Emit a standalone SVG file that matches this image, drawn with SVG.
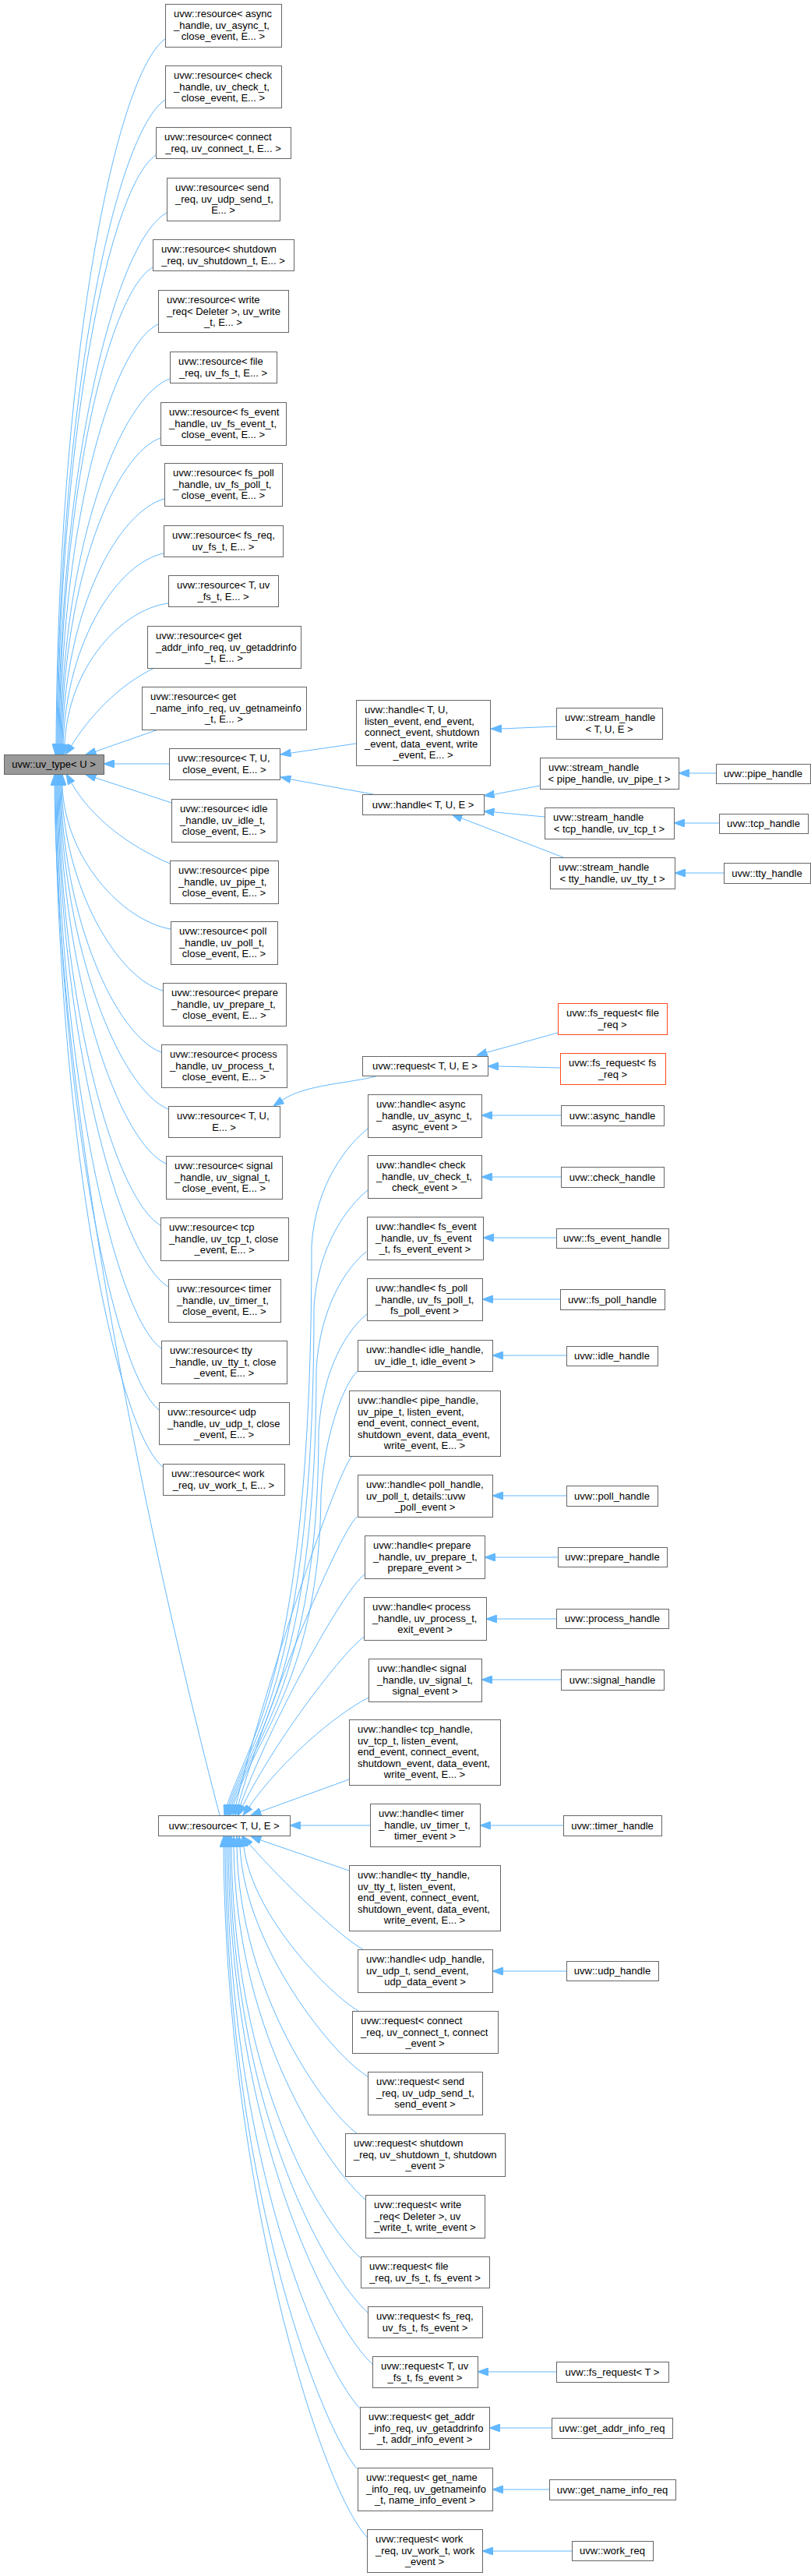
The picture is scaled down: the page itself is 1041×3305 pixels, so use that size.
<svg xmlns="http://www.w3.org/2000/svg" width="1041" height="3305" viewBox="0 0 1041 3305">
<style>
rect{fill:#fff;stroke:#666;stroke-width:1}
rect.root{fill:#999}
rect.trunc{stroke:#ff4a1c}
text{font-family:"Liberation Sans",Arial,sans-serif;font-size:13px;fill:#000}
.l{text-anchor:start}
.c{text-anchor:middle}
#edges path{fill:none;stroke:#63b8ff;stroke-width:1;marker-end:url(#a)}
</style>
<defs>
<marker id="a" markerUnits="userSpaceOnUse" viewBox="0 0 14 10" markerWidth="14" markerHeight="10" refX="13.5" refY="5" orient="auto"><path d="M0,0 L13.5,5 L0,10 z" fill="#63b8ff" stroke="#63b8ff" stroke-width="1"/></marker>
</defs>
<rect x="0" y="0" width="1041" height="3305" style="fill:#fff;stroke:none"/>
<g id="edges">
<path d="M212,50 C149,95 75,457 72,954 L71,968"/>
<path d="M212,128 C150,169 76,500 73,954 L72,968"/>
<path d="M200,199 C143,237 77,539 74,954 L73,968"/>
<path d="M214,273 C151,307 78,579 75,954 L74,968"/>
<path d="M196,343 C142,374 79,618 76,954 L75,968"/>
<path d="M203,416 C146,443 80,658 77,954 L76,968"/>
<path d="M218,486 C155,509 81,697 78,954 L77,968"/>
<path d="M206,562 C149,582 82,738 79,954 L78,968"/>
<path d="M211,640 C152,656 83,781 80,954 L79,968"/>
<path d="M210,710 C152,722 86,820 81,954 L80,968"/>
<path d="M216,774 C156,782 88,855 83,954 L82,968"/>
<path d="M200,856 C150,880 115,920 92,956 L84,968"/>
<path d="M203,936 L123,964 L110,968"/>
<path d="M217,980 L147,980 L133,980"/>
<path d="M220,1030 L123,998 L110,994"/>
<path d="M218,1108 C165,1085 118,1050 92,1005 L85,993"/>
<path d="M219,1192 C156,1181 83,1100 80,1008 L80,994"/>
<path d="M209,1271 C151,1255 82,1139 79,1008 L79,994"/>
<path d="M207,1350 C149,1329 81,1179 78,1008 L78,994"/>
<path d="M216,1423 C154,1398 80,1215 77,1008 L77,994"/>
<path d="M213,1493 C151,1464 79,1250 76,1008 L76,994"/>
<path d="M206,1572 C147,1538 78,1290 75,1008 L75,994"/>
<path d="M216,1651 C152,1612 77,1329 74,1008 L74,994"/>
<path d="M207,1730 C147,1687 76,1369 73,1008 L73,994"/>
<path d="M204,1809 C145,1761 75,1409 72,1008 L72,994"/>
<path d="M209,1882 C146,1830 74,1445 71,1008 L71,994"/>
<path d="M282,2329 C230,2130 75,1500 70,1008 L70,994"/>
<path d="M457,954 L374,966 L360,968"/>
<path d="M479,1019 L374,1000 L360,997"/>
<path d="M714,932 L643,935 L630,935"/>
<path d="M693,1008 L635,1019 L621,1021"/>
<path d="M699,1048 L635,1042 L621,1041"/>
<path d="M723,1100 L593,1050 L580,1045"/>
<path d="M919,992 L885,992 L871,992"/>
<path d="M923,1056 L879,1056 L865,1056"/>
<path d="M929,1120 L880,1120 L866,1120"/>
<path d="M716,1325 L626,1350 L612,1354"/>
<path d="M719,1370 L640,1368 L626,1368"/>
<path d="M486,1380 C450,1390 393,1391 363,1411 L351,1419"/>
<path d="M720,1431 L632,1431 L618,1431"/>
<path d="M720,1510 L632,1510 L618,1510"/>
<path d="M714,1588 L634,1588 L620,1588"/>
<path d="M719,1667 L633,1667 L619,1667"/>
<path d="M727,1739 L646,1739 L632,1739"/>
<path d="M727,1919 L646,1919 L632,1919"/>
<path d="M716,1998 L636,1998 L622,1998"/>
<path d="M714,2077 L638,2077 L624,2077"/>
<path d="M720,2155 L632,2155 L618,2155"/>
<path d="M723,2342 L630,2342 L616,2342"/>
<path d="M727,2529 L646,2529 L632,2529"/>
<path d="M714,3043 L627,3043 L613,3043"/>
<path d="M708,3115 L642,3115 L628,3115"/>
<path d="M705,3194 L646,3194 L632,3194"/>
<path d="M734,3273 L633,3273 L619,3273"/>
<path d="M472,1448 C447,1468 405,1518 400,1598 C400,2150 319,2230 292,2315 L288,2329"/>
<path d="M472,1527 C447,1547 408,1597 403,1677 C403,2150 321,2230 294,2315 L290,2329"/>
<path d="M470,1606 C445,1626 411,1676 406,1756 C406,2150 323,2230 296,2315 L292,2329"/>
<path d="M471,1686 C446,1706 414,1756 409,1836 C409,2150 325,2230 298,2315 L294,2329"/>
<path d="M459,1759 C438,1780 415,1850 412,1920 C410,2150 327,2230 300,2315 L296,2329"/>
<path d="M452,1868 C428,1895 330,2200 303,2315 L299,2329"/>
<path d="M458,1946 C430,1975 335,2210 306,2315 L302,2329"/>
<path d="M468,2020 C440,2040 345,2215 309,2315 L305,2329"/>
<path d="M467,2100 C440,2120 355,2230 312,2316 L306,2329"/>
<path d="M473,2178 C430,2200 360,2260 320,2318 L312,2329"/>
<path d="M448,2283 L335,2324 L322,2329"/>
<path d="M475,2342 L386,2342 L372,2342"/>
<path d="M448,2400 L335,2361 L322,2356"/>
<path d="M466,2501 C440,2488 360,2412 321,2367 L312,2356"/>
<path d="M460,2580 C425,2560 325,2460 313,2370 L311,2356"/>
<path d="M472,2664 C430,2640 315,2500 308,2370 L307,2356"/>
<path d="M458,2737 C420,2710 308,2560 304,2370 L304,2356"/>
<path d="M469,2822 C430,2790 303,2620 300,2370 L300,2356"/>
<path d="M463,2897 C420,2860 300,2680 297,2370 L297,2356"/>
<path d="M472,2967 C425,2925 298,2720 295,2370 L295,2356"/>
<path d="M478,3033 C430,2990 296,2750 293,2370 L293,2356"/>
<path d="M462,3090 C415,3040 294,2780 291,2370 L291,2356"/>
<path d="M458,3167 C410,3110 292,2800 289,2370 L289,2356"/>
<path d="M471,3255 C410,3190 290,2800 287,2370 L287,2356"/>
</g>
<g id="root"><rect class="root" x="5.5" y="968.5" width="128" height="25"/><text class="c" x="69" y="985">uvw::uv_type&lt; U &gt;</text></g>
<g id="n_async"><rect x="212.5" y="5.5" width="149" height="55"/><text class="l" x="223" y="21.8">uvw::resource&lt; async</text><text class="l" x="223" y="36.5">_handle, uv_async_t,</text><text class="c" x="286.5" y="51.2">close_event, E... &gt;</text></g>
<g id="n_check"><rect x="212.5" y="84.5" width="149" height="54"/><text class="l" x="223" y="100.8">uvw::resource&lt; check</text><text class="l" x="223" y="115.5">_handle, uv_check_t,</text><text class="c" x="286.5" y="130.2">close_event, E... &gt;</text></g>
<g id="n_connect"><rect x="200.5" y="163.5" width="173" height="40"/><text class="l" x="211" y="179.8">uvw::resource&lt; connect</text><text class="c" x="286.5" y="194.5">_req, uv_connect_t, E... &gt;</text></g>
<g id="n_send"><rect x="214.5" y="228.5" width="145" height="55"/><text class="l" x="225" y="244.8">uvw::resource&lt; send</text><text class="l" x="225" y="259.5">_req, uv_udp_send_t,</text><text class="c" x="286.5" y="274.2">E... &gt;</text></g>
<g id="n_shutdown"><rect x="196.5" y="307.5" width="181" height="40"/><text class="l" x="207" y="323.8">uvw::resource&lt; shutdown</text><text class="c" x="286.5" y="338.5">_req, uv_shutdown_t, E... &gt;</text></g>
<g id="n_write"><rect x="203.5" y="372.5" width="167" height="54"/><text class="l" x="214" y="388.8">uvw::resource&lt; write</text><text class="l" x="214" y="403.5">_req&lt; Deleter &gt;, uv_write</text><text class="c" x="286.5" y="418.2">_t, E... &gt;</text></g>
<g id="n_file"><rect x="218.5" y="451.5" width="137" height="40"/><text class="l" x="229" y="467.8">uvw::resource&lt; file</text><text class="c" x="286.5" y="482.5">_req, uv_fs_t, E... &gt;</text></g>
<g id="n_fsevent"><rect x="206.5" y="516.5" width="161" height="55"/><text class="l" x="217" y="532.8">uvw::resource&lt; fs_event</text><text class="l" x="217" y="547.5">_handle, uv_fs_event_t,</text><text class="c" x="286.5" y="562.2">close_event, E... &gt;</text></g>
<g id="n_fspoll"><rect x="211.5" y="594.5" width="151" height="55"/><text class="l" x="222" y="610.8">uvw::resource&lt; fs_poll</text><text class="l" x="222" y="625.5">_handle, uv_fs_poll_t,</text><text class="c" x="286.5" y="640.2">close_event, E... &gt;</text></g>
<g id="n_fsreq"><rect x="210.5" y="674.5" width="153" height="40"/><text class="l" x="221" y="690.8">uvw::resource&lt; fs_req,</text><text class="c" x="286.5" y="705.5">uv_fs_t, E... &gt;</text></g>
<g id="n_Tfs"><rect x="216.5" y="738.5" width="141" height="40"/><text class="l" x="227" y="754.8">uvw::resource&lt; T, uv</text><text class="c" x="286.5" y="769.5">_fs_t, E... &gt;</text></g>
<g id="n_getaddr"><rect x="189.5" y="803.5" width="197" height="54"/><text class="l" x="200" y="819.8">uvw::resource&lt; get</text><text class="l" x="200" y="834.5">_addr_info_req, uv_getaddrinfo</text><text class="c" x="287.5" y="849.2">_t, E... &gt;</text></g>
<g id="n_getname"><rect x="182.5" y="881.5" width="211" height="55"/><text class="l" x="193" y="897.8">uvw::resource&lt; get</text><text class="l" x="193" y="912.5">_name_info_req, uv_getnameinfo</text><text class="c" x="287.5" y="927.2">_t, E... &gt;</text></g>
<g id="n_rTUclose"><rect x="217.5" y="960.5" width="142" height="40"/><text class="l" x="228" y="976.8">uvw::resource&lt; T, U,</text><text class="c" x="288" y="991.5">close_event, E... &gt;</text></g>
<g id="n_idle"><rect x="220.5" y="1025.5" width="135" height="55"/><text class="l" x="231" y="1041.8">uvw::resource&lt; idle</text><text class="l" x="231" y="1056.5">_handle, uv_idle_t,</text><text class="c" x="287.5" y="1071.2">close_event, E... &gt;</text></g>
<g id="n_pipe"><rect x="218.5" y="1104.5" width="139" height="55"/><text class="l" x="229" y="1120.8">uvw::resource&lt; pipe</text><text class="l" x="229" y="1135.5">_handle, uv_pipe_t,</text><text class="c" x="287.5" y="1150.2">close_event, E... &gt;</text></g>
<g id="n_poll"><rect x="219.5" y="1182.5" width="137" height="55"/><text class="l" x="230" y="1198.8">uvw::resource&lt; poll</text><text class="l" x="230" y="1213.5">_handle, uv_poll_t,</text><text class="c" x="287.5" y="1228.2">close_event, E... &gt;</text></g>
<g id="n_prepare"><rect x="209.5" y="1261.5" width="158" height="55"/><text class="l" x="220" y="1277.8">uvw::resource&lt; prepare</text><text class="l" x="220" y="1292.5">_handle, uv_prepare_t,</text><text class="c" x="288" y="1307.2">close_event, E... &gt;</text></g>
<g id="n_process"><rect x="207.5" y="1340.5" width="161" height="55"/><text class="l" x="218" y="1356.8">uvw::resource&lt; process</text><text class="l" x="218" y="1371.5">_handle, uv_process_t,</text><text class="c" x="287.5" y="1386.2">close_event, E... &gt;</text></g>
<g id="n_rTUEdots"><rect x="216.5" y="1419.5" width="143" height="40"/><text class="l" x="227" y="1435.8">uvw::resource&lt; T, U,</text><text class="c" x="287.5" y="1450.5">E... &gt;</text></g>
<g id="n_signal"><rect x="213.5" y="1483.5" width="149" height="55"/><text class="l" x="224" y="1499.8">uvw::resource&lt; signal</text><text class="l" x="224" y="1514.5">_handle, uv_signal_t,</text><text class="c" x="287.5" y="1529.2">close_event, E... &gt;</text></g>
<g id="n_tcp"><rect x="206.5" y="1562.5" width="164" height="55"/><text class="l" x="217" y="1578.8">uvw::resource&lt; tcp</text><text class="l" x="217" y="1593.5">_handle, uv_tcp_t, close</text><text class="c" x="288" y="1608.2">_event, E... &gt;</text></g>
<g id="n_timer"><rect x="216.5" y="1641.5" width="144" height="55"/><text class="l" x="227" y="1657.8">uvw::resource&lt; timer</text><text class="l" x="227" y="1672.5">_handle, uv_timer_t,</text><text class="c" x="288" y="1687.2">close_event, E... &gt;</text></g>
<g id="n_tty"><rect x="207.5" y="1720.5" width="161" height="55"/><text class="l" x="218" y="1736.8">uvw::resource&lt; tty</text><text class="l" x="218" y="1751.5">_handle, uv_tty_t, close</text><text class="c" x="287.5" y="1766.2">_event, E... &gt;</text></g>
<g id="n_udp"><rect x="204.5" y="1799.5" width="167" height="54"/><text class="l" x="215" y="1815.8">uvw::resource&lt; udp</text><text class="l" x="215" y="1830.5">_handle, uv_udp_t, close</text><text class="c" x="287.5" y="1845.2">_event, E... &gt;</text></g>
<g id="n_work"><rect x="209.5" y="1878.5" width="156" height="40"/><text class="l" x="220" y="1894.8">uvw::resource&lt; work</text><text class="c" x="287" y="1909.5">_req, uv_work_t, E... &gt;</text></g>
<g id="n_rTUE"><rect x="203.5" y="2329.5" width="169" height="26"/><text class="c" x="287.5" y="2346.5">uvw::resource&lt; T, U, E &gt;</text></g>
<g id="h_TUlisten"><rect x="457.5" y="898.5" width="172" height="84"/><text class="l" x="468" y="915">uvw::handle&lt; T, U,</text><text class="l" x="468" y="929.6">listen_event, end_event,</text><text class="l" x="468" y="944.2">connect_event, shutdown</text><text class="l" x="468" y="958.8">_event, data_event, write</text><text class="c" x="543" y="973.4">_event, E... &gt;</text></g>
<g id="h_TUE"><rect x="465.5" y="1019.5" width="156" height="26"/><text class="c" x="543" y="1036.5">uvw::handle&lt; T, U, E &gt;</text></g>
<g id="req_TUE"><rect x="465.5" y="1355.5" width="161" height="25"/><text class="c" x="545.5" y="1372">uvw::request&lt; T, U, E &gt;</text></g>
<g id="h_async"><rect x="472.5" y="1404.5" width="146" height="55"/><text class="l" x="483" y="1420.8">uvw::handle&lt; async</text><text class="l" x="483" y="1435.5">_handle, uv_async_t,</text><text class="c" x="545" y="1450.2">async_event &gt;</text></g>
<g id="h_check"><rect x="472.5" y="1482.5" width="146" height="55"/><text class="l" x="483" y="1498.8">uvw::handle&lt; check</text><text class="l" x="483" y="1513.5">_handle, uv_check_t,</text><text class="c" x="545" y="1528.2">check_event &gt;</text></g>
<g id="h_fsevent"><rect x="471.5" y="1561.5" width="149" height="55"/><text class="l" x="482" y="1577.8">uvw::handle&lt; fs_event</text><text class="l" x="482" y="1592.5">_handle, uv_fs_event</text><text class="c" x="545.5" y="1607.2">_t, fs_event_event &gt;</text></g>
<g id="h_fspoll"><rect x="471.5" y="1640.5" width="148" height="54"/><text class="l" x="482" y="1656.8">uvw::handle&lt; fs_poll</text><text class="l" x="482" y="1671.5">_handle, uv_fs_poll_t,</text><text class="c" x="545" y="1686.2">fs_poll_event &gt;</text></g>
<g id="h_idle"><rect x="459.5" y="1719.5" width="173" height="40"/><text class="l" x="470" y="1735.8">uvw::handle&lt; idle_handle,</text><text class="c" x="545.5" y="1750.5">uv_idle_t, idle_event &gt;</text></g>
<g id="h_pipe"><rect x="448.5" y="1784.5" width="194" height="84"/><text class="l" x="459" y="1801">uvw::handle&lt; pipe_handle,</text><text class="l" x="459" y="1815.6">uv_pipe_t, listen_event,</text><text class="l" x="459" y="1830.2">end_event, connect_event,</text><text class="l" x="459" y="1844.8">shutdown_event, data_event,</text><text class="c" x="545" y="1859.4">write_event, E... &gt;</text></g>
<g id="h_poll"><rect x="459.5" y="1892.5" width="173" height="54"/><text class="l" x="470" y="1908.8">uvw::handle&lt; poll_handle,</text><text class="l" x="470" y="1923.5">uv_poll_t, details::uvw</text><text class="c" x="545.5" y="1938.2">_poll_event &gt;</text></g>
<g id="h_prepare"><rect x="468.5" y="1970.5" width="154" height="55"/><text class="l" x="479" y="1986.8">uvw::handle&lt; prepare</text><text class="l" x="479" y="2001.5">_handle, uv_prepare_t,</text><text class="c" x="545" y="2016.2">prepare_event &gt;</text></g>
<g id="h_process"><rect x="467.5" y="2049.5" width="157" height="55"/><text class="l" x="478" y="2065.8">uvw::handle&lt; process</text><text class="l" x="478" y="2080.5">_handle, uv_process_t,</text><text class="c" x="545.5" y="2095.2">exit_event &gt;</text></g>
<g id="h_signal"><rect x="473.5" y="2128.5" width="145" height="55"/><text class="l" x="484" y="2144.8">uvw::handle&lt; signal</text><text class="l" x="484" y="2159.5">_handle, uv_signal_t,</text><text class="c" x="545.5" y="2174.2">signal_event &gt;</text></g>
<g id="h_tcp"><rect x="448.5" y="2206.5" width="194" height="84"/><text class="l" x="459" y="2223">uvw::handle&lt; tcp_handle,</text><text class="l" x="459" y="2237.6">uv_tcp_t, listen_event,</text><text class="l" x="459" y="2252.2">end_event, connect_event,</text><text class="l" x="459" y="2266.8">shutdown_event, data_event,</text><text class="c" x="545" y="2281.4">write_event, E... &gt;</text></g>
<g id="h_timer"><rect x="475.5" y="2314.5" width="141" height="55"/><text class="l" x="486" y="2330.8">uvw::handle&lt; timer</text><text class="l" x="486" y="2345.5">_handle, uv_timer_t,</text><text class="c" x="545.5" y="2360.2">timer_event &gt;</text></g>
<g id="h_tty"><rect x="448.5" y="2393.5" width="194" height="84"/><text class="l" x="459" y="2410">uvw::handle&lt; tty_handle,</text><text class="l" x="459" y="2424.6">uv_tty_t, listen_event,</text><text class="l" x="459" y="2439.2">end_event, connect_event,</text><text class="l" x="459" y="2453.8">shutdown_event, data_event,</text><text class="c" x="545" y="2468.4">write_event, E... &gt;</text></g>
<g id="h_udp"><rect x="459.5" y="2501.5" width="173" height="55"/><text class="l" x="470" y="2517.8">uvw::handle&lt; udp_handle,</text><text class="l" x="470" y="2532.5">uv_udp_t, send_event,</text><text class="c" x="545.5" y="2547.2">udp_data_event &gt;</text></g>
<g id="r_connect"><rect x="452.5" y="2580.5" width="187" height="54"/><text class="l" x="463" y="2596.8">uvw::request&lt; connect</text><text class="l" x="463" y="2611.5">_req, uv_connect_t, connect</text><text class="c" x="545.5" y="2626.2">_event &gt;</text></g>
<g id="r_send"><rect x="472.5" y="2658.5" width="147" height="55"/><text class="l" x="483" y="2674.8">uvw::request&lt; send</text><text class="l" x="483" y="2689.5">_req, uv_udp_send_t,</text><text class="c" x="545.5" y="2704.2">send_event &gt;</text></g>
<g id="r_shutdown"><rect x="443.5" y="2737.5" width="205" height="55"/><text class="l" x="454" y="2753.8">uvw::request&lt; shutdown</text><text class="l" x="454" y="2768.5">_req, uv_shutdown_t, shutdown</text><text class="c" x="545.5" y="2783.2">_event &gt;</text></g>
<g id="r_write"><rect x="469.5" y="2816.5" width="153" height="55"/><text class="l" x="480" y="2832.8">uvw::request&lt; write</text><text class="l" x="480" y="2847.5">_req&lt; Deleter &gt;, uv</text><text class="c" x="545.5" y="2862.2">_write_t, write_event &gt;</text></g>
<g id="r_file"><rect x="463.5" y="2895.5" width="165" height="40"/><text class="l" x="474" y="2911.8">uvw::request&lt; file</text><text class="c" x="545.5" y="2926.5">_req, uv_fs_t, fs_event &gt;</text></g>
<g id="r_fsreq"><rect x="472.5" y="2959.5" width="147" height="40"/><text class="l" x="483" y="2975.8">uvw::request&lt; fs_req,</text><text class="c" x="545.5" y="2990.5">uv_fs_t, fs_event &gt;</text></g>
<g id="r_Tfs"><rect x="478.5" y="3023.5" width="135" height="40"/><text class="l" x="489" y="3039.8">uvw::request&lt; T, uv</text><text class="c" x="545.5" y="3054.5">_fs_t, fs_event &gt;</text></g>
<g id="r_getaddr"><rect x="462.5" y="3088.5" width="166" height="54"/><text class="l" x="473" y="3104.8">uvw::request&lt; get_addr</text><text class="l" x="473" y="3119.5">_info_req, uv_getaddrinfo</text><text class="c" x="545" y="3134.2">_t, addr_info_event &gt;</text></g>
<g id="r_getname"><rect x="459.5" y="3166.5" width="173" height="55"/><text class="l" x="470" y="3182.8">uvw::request&lt; get_name</text><text class="l" x="470" y="3197.5">_info_req, uv_getnameinfo</text><text class="c" x="545.5" y="3212.2">_t, name_info_event &gt;</text></g>
<g id="r_work"><rect x="471.5" y="3245.5" width="148" height="55"/><text class="l" x="482" y="3261.8">uvw::request&lt; work</text><text class="l" x="482" y="3276.5">_req, uv_work_t, work</text><text class="c" x="545" y="3291.2">_event &gt;</text></g>
<g id="sh_TUE"><rect x="714.5" y="908.5" width="136" height="40"/><text class="l" x="725" y="924.8">uvw::stream_handle</text><text class="c" x="782" y="939.5">&lt; T, U, E &gt;</text></g>
<g id="sh_pipe"><rect x="693.5" y="972.5" width="178" height="40"/><text class="l" x="704" y="988.8">uvw::stream_handle</text><text class="c" x="782" y="1003.5">&lt; pipe_handle, uv_pipe_t &gt;</text></g>
<g id="sh_tcp"><rect x="699.5" y="1036.5" width="166" height="40"/><text class="l" x="710" y="1052.8">uvw::stream_handle</text><text class="c" x="782" y="1067.5">&lt; tcp_handle, uv_tcp_t &gt;</text></g>
<g id="sh_tty"><rect x="706.5" y="1100.5" width="160" height="40"/><text class="l" x="717" y="1116.8">uvw::stream_handle</text><text class="c" x="786" y="1131.5">&lt; tty_handle, uv_tty_t &gt;</text></g>
<g id="pipe_handle"><rect x="919.5" y="980.5" width="121" height="25"/><text class="c" x="979.5" y="997">uvw::pipe_handle</text></g>
<g id="tcp_handle"><rect x="923.5" y="1044.5" width="114" height="25"/><text class="c" x="980" y="1061">uvw::tcp_handle</text></g>
<g id="tty_handle"><rect x="929.5" y="1107.5" width="111" height="26"/><text class="c" x="984.5" y="1124.5">uvw::tty_handle</text></g>
<g id="fsr_file"><rect class="trunc" x="716.5" y="1287.5" width="140" height="40"/><text class="l" x="727" y="1303.8">uvw::fs_request&lt; file</text><text class="c" x="786" y="1318.5">_req &gt;</text></g>
<g id="fsr_fs"><rect class="trunc" x="719.5" y="1351.5" width="135" height="40"/><text class="l" x="730" y="1367.8">uvw::fs_request&lt; fs</text><text class="c" x="786.5" y="1382.5">_req &gt;</text></g>
<g id="async_handle"><rect x="720.5" y="1418.5" width="132" height="26"/><text class="c" x="786" y="1435.5">uvw::async_handle</text></g>
<g id="check_handle"><rect x="720.5" y="1497.5" width="132" height="26"/><text class="c" x="786" y="1514.5">uvw::check_handle</text></g>
<g id="fs_event_handle"><rect x="714.5" y="1576.5" width="144" height="25"/><text class="c" x="786" y="1593">uvw::fs_event_handle</text></g>
<g id="fs_poll_handle"><rect x="719.5" y="1654.5" width="134" height="26"/><text class="c" x="786" y="1671.5">uvw::fs_poll_handle</text></g>
<g id="idle_handle"><rect x="727.5" y="1727.5" width="117" height="25"/><text class="c" x="785.5" y="1744">uvw::idle_handle</text></g>
<g id="poll_handle"><rect x="727.5" y="1906.5" width="117" height="26"/><text class="c" x="785.5" y="1923.5">uvw::poll_handle</text></g>
<g id="prepare_handle"><rect x="716.5" y="1985.5" width="140" height="25"/><text class="c" x="786" y="2002">uvw::prepare_handle</text></g>
<g id="process_handle"><rect x="714.5" y="2064.5" width="144" height="25"/><text class="c" x="786" y="2081">uvw::process_handle</text></g>
<g id="signal_handle"><rect x="720.5" y="2142.5" width="132" height="26"/><text class="c" x="786" y="2159.5">uvw::signal_handle</text></g>
<g id="timer_handle"><rect x="723.5" y="2329.5" width="126" height="26"/><text class="c" x="786" y="2346.5">uvw::timer_handle</text></g>
<g id="udp_handle"><rect x="727.5" y="2516.5" width="118" height="25"/><text class="c" x="786" y="2533">uvw::udp_handle</text></g>
<g id="fs_request_T"><rect x="714.5" y="3030.5" width="144" height="26"/><text class="c" x="786" y="3047.5">uvw::fs_request&lt; T &gt;</text></g>
<g id="get_addr_info_req"><rect x="708.5" y="3102.5" width="155" height="26"/><text class="c" x="785.5" y="3119.5">uvw::get_addr_info_req</text></g>
<g id="get_name_info_req"><rect x="705.5" y="3181.5" width="162" height="26"/><text class="c" x="786" y="3198.5">uvw::get_name_info_req</text></g>
<g id="work_req"><rect x="734.5" y="3260.5" width="104" height="25"/><text class="c" x="786" y="3277">uvw::work_req</text></g>
</svg>
